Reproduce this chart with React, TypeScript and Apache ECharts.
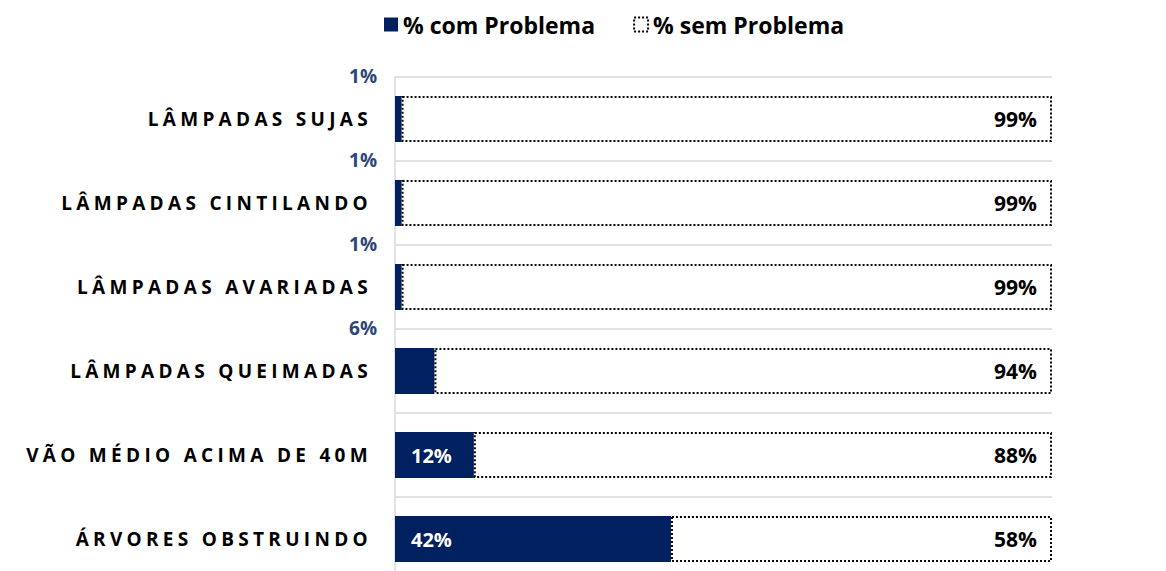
import React, { useEffect, useRef } from "react";
import * as echarts from "echarts";

const categories = [
  "LÂMPADAS SUJAS",
  "LÂMPADAS CINTILANDO",
  "LÂMPADAS AVARIADAS",
  "LÂMPADAS QUEIMADAS",
  "VÃO MÉDIO ACIMA DE 40M",
  "ÁRVORES OBSTRUINDO",
];
const comProblema = [1, 1, 1, 6, 12, 42];
const semProblema = [99, 99, 99, 94, 88, 58];
const seriesNames = ["% com Problema", "% sem Problema"];

const NAVY = "#002060";
const SMALL_LABEL = "#2E4677";
const FONT = "Open Sans";
const AXIS_FONT = "Open Sans, DejaVu Sans";
const DOTTED = { color: "#fff", borderColor: "#000", borderWidth: 2, borderType: [2, 2] };

export default function App() {
  const ref = useRef<HTMLDivElement>(null);
  useEffect(() => {
    if (!ref.current) return;
    const chart = echarts.init(ref.current, undefined, { renderer: "svg" });
    const comData = comProblema.map((v) =>
      v < 10
        ? {
            value: v,
            label: {
              show: true,
              position: [-18, -20],
              align: "right",
              verticalAlign: "middle",
              color: SMALL_LABEL,
              fontSize: 19,
              fontWeight: "bold",
              fontFamily: FONT,
              formatter: "{c}%",
            },
          }
        : { value: v }
    );
    chart.setOption({
      animation: false,
      textStyle: { fontFamily: FONT },
      legend: {
        top: 8,
        left: 379,
        itemWidth: 14,
        itemHeight: 14,
        itemGap: 38,
        textStyle: { fontSize: 23, fontWeight: "bold", color: "#000", fontFamily: FONT },
        data: [
          { name: seriesNames[0], icon: "rect" },
          { name: seriesNames[1], icon: "rect", itemStyle: DOTTED },
        ],
      },
      grid: {
        left: 395,
        top: 77,
        width: 657,
        height: 504,
        containLabel: false,
        outerBoundsMode: "none",
      },
      xAxis: {
        type: "value",
        min: 0,
        max: 100,
        show: false,
      },
      yAxis: {
        type: "category",
        data: categories,
        inverse: true,
        axisLine: { show: true, lineStyle: { color: "#d9d9d9", width: 1.5 } },
        axisTick: { show: false },
        splitLine: { show: true, lineStyle: { color: "#d9d9d9", width: 1.5 } },
        axisLabel: {
          margin: 23,
          fontSize: 19,
          fontWeight: "bold",
          color: "#000",
          fontFamily: AXIS_FONT,
        },
      },
      series: [
        {
          name: seriesNames[0],
          type: "bar",
          stack: "total",
          barWidth: 46,
          data: comData,
          itemStyle: { color: NAVY },
          label: {
            show: true,
            position: "insideLeft",
            distance: 16,
            color: "#fff",
            fontSize: 20,
            fontWeight: "bold",
            fontFamily: FONT,
            formatter: "{c}%",
          },
        },
        {
          name: seriesNames[1],
          type: "bar",
          stack: "total",
          barWidth: 46,
          data: semProblema,
          itemStyle: DOTTED,
          label: {
            show: true,
            position: "insideRight",
            distance: 15,
            color: "#000",
            fontSize: 21,
            fontWeight: "bold",
            fontFamily: FONT,
            formatter: "{c}%",
          },
        },
      ],
    });
    return () => chart.dispose();
  }, []);
  return (
    <>
      <style>{`
        .chartbox text[style*="DejaVu"], .chartbox text[font-family*="DejaVu"] { letter-spacing: 4.3px; }
      `}</style>
      <div
        className="chartbox"
        ref={ref}
        style={{ position: "fixed", left: 0, top: 0, width: 1166, height: 571, background: "#fff" }}
      />
    </>
  );
}
